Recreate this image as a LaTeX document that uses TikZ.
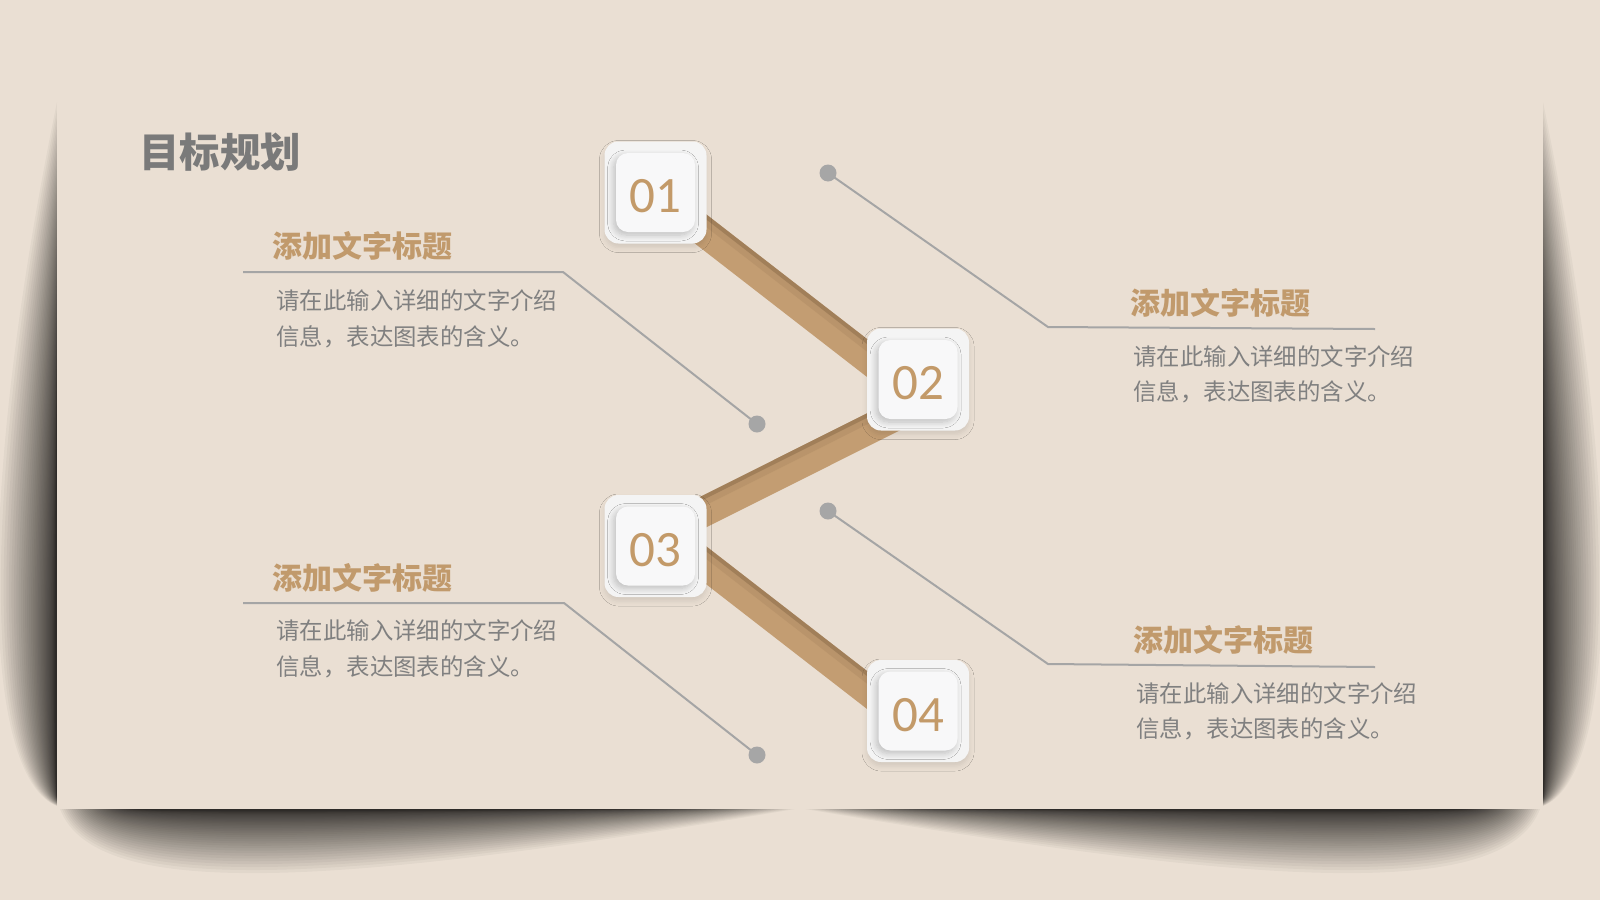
\documentclass[tikz,border=0pt]{standalone}
\usepackage{fontspec}
\usetikzlibrary{calc,shadows.blur}
\newfontfamily\cjk{Noto Sans CJK SC}
\newfontfamily\numfont{Carlito}
\definecolor{bg}{HTML}{EADFD3}
\definecolor{bandc}{HTML}{C39D72}
\definecolor{bandd}{HTML}{8E6E4C}
\definecolor{headc}{HTML}{C19A6C}
\definecolor{numc}{HTML}{C39A69}
\definecolor{bodyc}{HTML}{808080}
\definecolor{titlec}{HTML}{7A7A7A}
\definecolor{linegray}{HTML}{A5A5A5}
\definecolor{dotgray}{HTML}{A6A6A6}
\definecolor{boxo}{HTML}{F4F4F4}
\definecolor{boxi}{HTML}{F8F8F9}
\begin{document}
\begin{tikzpicture}[x=0.5pt,y=-0.5pt,
  conn/.style={draw=linegray, line width=1pt},
  dotn/.style={circle, fill=dotgray, minimum size=8.5pt, inner sep=0pt},
  band/.style={draw=bandc, line width=15pt},
  bandedge/.style={draw=bandd, line width=2pt, opacity=0.55},
  bandsoft/.style={draw=bandd, line width=5pt, opacity=0.18},
  shd/.style={fill=black, opacity=0.035},
  outerbox/.style={minimum size=51pt, inner sep=0pt, rounded corners=7pt, fill=boxo,
    blur shadow={shadow xshift=0pt, shadow yshift=-2pt, shadow blur radius=2.5pt, shadow opacity=10}},
  innerbox/.style={minimum size=39.5pt, inner sep=0pt, rounded corners=6pt, fill=boxi,
    blur shadow={shadow xshift=-1.2pt, shadow yshift=-1.5pt, shadow blur radius=3pt, shadow blur steps=8, shadow opacity=22},
    font=\numfont\fontsize{25.5}{30}\selectfont, text=numc, text height=20pt, text depth=0pt},
  head/.style={font=\cjk\bfseries\fontsize{15}{18}\selectfont, text=headc, inner sep=0pt, anchor=base west},
  body/.style={font=\cjk\fontsize{11.7}{14}\selectfont, text=bodyc, inner sep=0pt, anchor=base west}
]
\useasboundingbox (0,0) rectangle (1600,900);
\fill[bg] (0,0) rectangle (1600,900);
% side shadows
\foreach \i in {0,...,39}{
  \pgfmathsetmacro\t{\i/40}
  \pgfmathsetmacro\a{102+320*\t}
  \pgfmathsetmacro\d{806-10*\t}
  \pgfmathsetmacro\w{62*(1-\t)*(1-\t)+2}
  \pgfmathsetmacro\ca{\a+0.6*(\d-\a)}
  \pgfmathsetmacro\cb{\d-0.04*(\d-\a)}
  \fill[shd] (57,\a) .. controls ({57-1.35*\w},\ca) and ({57-1.1*\w},\cb) .. (57,\d) -- cycle;
  \fill[shd] (1543,\a) .. controls ({1543+1.35*\w},\ca) and ({1543+1.1*\w},\cb) .. (1543,\d) -- cycle;
}
% bottom shadow
\foreach \i in {0,...,39}{
  \pgfmathsetmacro\t{\i/40}
  \pgfmathsetmacro\xa{60+80*\t}
  \pgfmathsetmacro\xb{795-160*\t}
  \pgfmathsetmacro\h{72*(1-\t)*(1-\t)+2}
  \pgfmathsetmacro\ca{\xa+0.05*(\xb-\xa)}
  \pgfmathsetmacro\cb{\xa+0.4*(\xb-\xa)}
  \fill[shd] (\xa,809) .. controls (\ca,{809+1.3*\h}) and (\cb,{809+1.0*\h}) .. (\xb,809) -- cycle;
  \fill[shd] ({1600-\xa},809) .. controls ({1600-\ca},{809+1.3*\h}) and ({1600-\cb},{809+1.0*\h}) .. ({1600-\xb},809) -- cycle;
}
% card
\fill[bg] (57,103) rectangle (1543,809);
% box centres
\coordinate (c1) at (655.5,192.5);
\coordinate (c2) at (918,379.5);
\coordinate (c3) at (655.5,546);
\coordinate (c4) at (918,711);
% bands
\coordinate (a1) at ($(c1)+(0,1.5)$);  \coordinate (e1) at ($(c2)+(0,18)$);
\coordinate (a2) at ($(c3)+(0,-10)$);  \coordinate (e2) at ($(c2)+(0,25)$);
\coordinate (a3) at ($(c3)+(0,-20)$);  \coordinate (e3) at ($(c4)+(0,18.5)$);
\foreach \s/\e in {a1/e1,a2/e2,a3/e3}{
  \draw[band] (\s) -- (\e);
  \draw[bandsoft] ($(\s)!5pt!90:(\e)$) -- ($(\e)!5pt!-90:(\s)$);
  \draw[bandedge] ($(\s)!6.5pt!90:(\e)$) -- ($(\e)!6.5pt!-90:(\s)$);
}
% connector lines
\coordinate (p1) at (828,173);
\coordinate (p2) at (757,424);
\coordinate (p3) at (828,511);
\coordinate (p4) at (757,755);
\coordinate (k1) at (1048,327); \coordinate (m1) at (1375,329);
\coordinate (k2) at (563,272);  \coordinate (m2) at (243,272);
\coordinate (k3) at (1048,664); \coordinate (m3) at (1375,667);
\coordinate (k4) at (564,603);  \coordinate (m4) at (243,603);
\draw[conn] (p1) -- (k1) -- (m1);
\draw[conn] (p2) -- (k2) -- (m2);
\draw[conn] (p3) -- (k3) -- (m3);
\draw[conn] (p4) -- (k4) -- (m4);
\node[dotn] (d1) at (p1) {};
\node[dotn] (d2) at (p2) {};
\node[dotn] (d3) at (p3) {};
\node[dotn] (d4) at (p4) {};
% boxes
\node[outerbox] (b1) at (c1) {};
\node[innerbox] (b1i) at (b1.center) {01};
\node[outerbox] (b2) at (c2) {};
\node[innerbox] (b2i) at (b2.center) {02};
\node[outerbox] (b3) at (c3) {};
\node[innerbox] (b3i) at (b3.center) {03};
\node[outerbox] (b4) at (c4) {};
\node[innerbox] (b4i) at (b4.center) {04};
% title
\node[font=\cjk\bfseries\fontsize{20.2}{24}\selectfont, text=titlec, inner sep=0pt, anchor=base west] (title) at (139,167) {目标规划};
% text blocks
\node[head] (h1) at (272,257) {添加文字标题};
\node[body] (t1a) at (276,309) {请在此输入详细的文字介绍};
\node[body] (t1b) at (276,345) {信息，表达图表的含义。};
\node[head] (h2) at (1130,314) {添加文字标题};
\node[body] (t2a) at (1133,365) {请在此输入详细的文字介绍};
\node[body] (t2b) at (1133,400) {信息，表达图表的含义。};
\node[head] (h3) at (272,589) {添加文字标题};
\node[body] (t3a) at (276,639) {请在此输入详细的文字介绍};
\node[body] (t3b) at (276,675) {信息，表达图表的含义。};
\node[head] (h4) at (1133,651) {添加文字标题};
\node[body] (t4a) at (1136,702) {请在此输入详细的文字介绍};
\node[body] (t4b) at (1136,737) {信息，表达图表的含义。};
\end{tikzpicture}
\end{document}
